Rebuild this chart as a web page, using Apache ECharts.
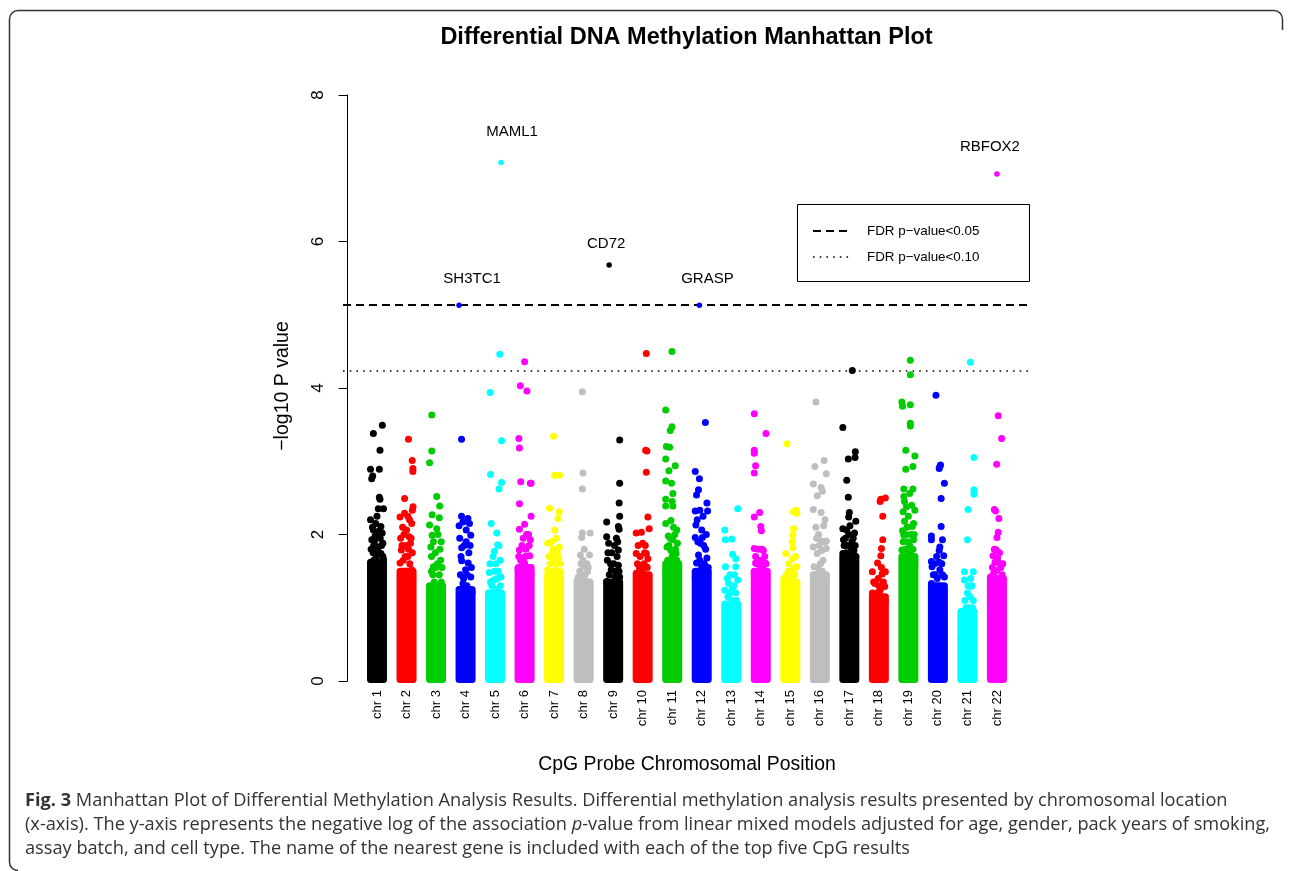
<!DOCTYPE html>
<html><head><meta charset="utf-8">
<script src="https://cdn.jsdelivr.net/npm/echarts@6/dist/echarts.min.js"></script>
<style>html,body{margin:0;padding:0;background:#fff}#c{width:1292px;height:871px}</style>
</head><body><div id="c"></div>
<script>
// ---------------- DATA ----------------
const chromosomes = [1,2,3,4,5,6,7,8,9,10,11,12,13,14,15,16,17,18,19,20,21,22];
// height (-log10 P) up to which each chromosome's point cloud is solid
const coreTop = [1.62,1.50,1.30,1.25,1.20,1.55,1.45,1.35,1.35,1.45,1.60,1.50,1.05,1.50,1.35,1.45,1.70,1.15,1.70,1.30,0.95,1.40];
// scattered probes above the solid cloud: [relative position in chromosome (0-1), -log10 P]
const chr01 = [[.91,3.49],[.22,3.38],[.73,3.15],[0,2.89],[.68,2.89],[.17,2.80],[.09,2.76],[.68,2.51],[.73,2.48],[.6,2.35],[1,2.35],[0,2.20],[.8,2.11],[.22,2.06],[.9,2.02],[.1,1.93],[.6,1.83],[.8,1.74],[.25,1.65],[.9,1.56],[.5,1.47],[0,1.38],[.4,2.15],[.55,2.0],[.3,1.9],[.75,1.95],[.05,1.8],[.45,1.7],[.95,1.88],[.15,1.6],[.65,1.62],[.35,1.5],[.85,1.45],[1,1.66],[.2,1.75],[.5,2.25],[.15,2.1],[.7,2.05],[.35,1.98],[.85,1.85],[.55,1.78],[.25,1.85],[.95,1.7]];
const chr02 = [[.65,3.30],[.94,3.01],[.99,2.90],[.99,2.86],[.35,2.49],[1,2.38],[.95,2.33],[.35,2.29],[0,2.24],[.73,2.20],[.5,2.06],[.7,1.97],[.8,1.88],[.1,1.79],[.6,1.70],[0,1.61],[.9,1.52],[.35,1.42],[.2,2.1],[.9,2.15],[.45,1.85],[.25,1.65],[.75,1.6],[.55,1.5],[.05,1.95],[.6,2.25],[.3,2.0],[.85,1.95],[.15,1.85],[.65,1.8],[.4,1.7],[.95,1.75]];
const chr03 = [[.17,3.63],[.17,3.14],[0,2.98],[.55,2.52],[.78,2.39],[.2,2.27],[.75,2.23],[0,2.13],[.55,2.08],[.2,1.99],[.1,1.83],[.85,1.65],[.3,1.56],[.75,1.45],[0,1.29],[.6,1.2],[.45,1.75],[.9,1.9],[.35,1.35],[.9,1.35],[.6,1.6],[.15,1.5],[.65,2.0],[.3,1.9],[.8,1.8],[.15,1.7],[.5,1.55],[.95,1.55],[.25,1.45]];
const chr04 = [[.19,3.30],[.19,2.25],[.68,2.22],[.3,2.17],[.8,2.15],[0,2.12],[.55,2.06],[.9,1.99],[.05,1.95],[.55,1.90],[.2,1.82],[.2,1.64],[.7,1.61],[.5,1.52],[.1,1.45],[.9,1.42],[.3,1.33],[1,1.2],[.75,1.75],[.6,1.3],[.05,1.25],[.4,1.2],[.4,1.85],[.85,1.85],[.15,1.7],[.6,1.45],[.95,1.55],[.35,1.4]];
const chr05 = [[.86,4.46],[.12,3.94],[1,3.28],[.15,2.82],[1,2.71],[.8,2.62],[.2,2.15],[.63,2.02],[.7,1.86],[.45,1.77],[.9,1.65],[.05,1.48],[.95,1.42],[.4,1.38],[0,1.2],[1,1.1],[.3,1.0],[.6,1.25],[.75,1.5],[.25,1.3],[.55,1.6],[.8,1.85],[.35,1.7],[.1,1.6],[.65,1.4],[.9,1.3],[.45,1.5],[.15,1.35]];
const chr06 = [[.5,4.36],[.17,4.03],[.68,3.96],[.06,3.31],[.1,3.18],[.2,2.72],[.94,2.70],[1,2.70],[.1,2.42],[1,2.25],[.5,2.14],[.1,2.07],[.94,1.93],[.1,1.79],[.9,1.71],[.5,1.61],[1,1.45],[0,1.52],[.3,1.85],[.7,1.55],[.2,1.65],[.6,1.8],[.8,2.0],[.4,1.95],[.55,1.7],[.85,1.85],[.05,1.7],[.35,1.6],[.65,2.0]];
const chr07 = [[.46,3.34],[.54,2.81],[.92,2.81],[.15,2.36],[.9,2.31],[.8,2.22],[.55,2.06],[0,1.88],[.4,1.80],[.9,1.83],[.3,1.72],[.7,1.61],[0,1.52],[1,1.49],[.4,1.40],[.65,1.95],[.2,1.6],[.85,1.68],[.3,1.9],[.75,1.75],[.5,1.65],[.1,1.7],[.95,1.6],[.6,1.52]];
const chr08 = [[.4,3.95],[.45,2.84],[.4,2.62],[.4,2.02],[1,2.02],[.35,1.96],[.25,1.72],[.95,1.72],[.45,1.65],[.5,1.56],[.8,1.49],[0,1.38],[.7,1.29],[.35,1.2],[.6,1.45],[.2,1.5],[.9,1.35],[.55,1.8],[.75,1.6],[.3,1.6],[.5,1.42],[.1,1.42],[.85,1.55]];
const chr09 = [[1,3.29],[1,2.70],[.96,2.43],[1,2.25],[0,2.17],[.9,2.11],[.96,2.07],[0,1.97],[.75,1.95],[.9,1.79],[.05,1.65],[.9,1.58],[.35,1.52],[1,1.42],[0,1.36],[.5,1.24],[.1,1.15],[.6,1.85],[.8,1.7],[.2,1.45],[.7,1.5],[.4,1.75],[.15,1.88],[.3,1.6],[.55,1.6],[.85,1.9],[.1,1.75],[.65,1.42],[.95,1.5]];
const chr10 = [[.78,4.47],[.73,3.15],[.83,3.14],[.78,2.85],[.9,2.24],[1,2.08],[0,2.02],[.4,2.03],[.5,1.88],[0,1.74],[.78,1.74],[.9,1.67],[.78,1.56],[0,1.47],[.9,1.40],[.4,1.33],[.6,1.6],[.25,1.55],[.15,1.85],[.55,1.4],[.7,1.85],[.3,1.7],[.85,1.55],[.1,1.6],[.45,1.5],[.65,1.75]];
const chr11 = [[.48,4.50],[0,3.70],[.48,3.47],[.35,3.42],[.05,3.20],[.3,3.19],[0,3.03],[.73,2.94],[.25,2.87],[0,2.73],[.45,2.70],[.55,2.56],[0,2.48],[.5,2.45],[0,2.39],[.55,2.39],[.4,2.19],[0,2.15],[.85,2.06],[.55,1.93],[.1,1.83],[.8,1.74],[.3,1.65],[1,1.56],[0,1.47],[.7,2.0],[.2,1.98],[.65,1.62],[.4,1.78],[.9,1.88],[.6,1.5],[.25,1.85],[.75,1.8],[.5,1.7],[.15,1.65],[.85,1.65],[.35,1.95],[.6,2.1]];
const chr12 = [[.78,3.53],[0,2.86],[.32,2.76],[.25,2.61],[.1,2.54],[.9,2.43],[0,2.32],[.35,2.33],[.95,2.32],[.6,2.25],[.05,2.13],[.5,2.06],[0,1.96],[.55,1.96],[.4,1.88],[.9,1.68],[.1,1.61],[.5,1.56],[.75,1.47],[0,1.42],[.8,1.8],[.25,1.72],[1,1.55],[.3,1.5],[.2,1.9],[.65,1.85],[.85,2.0],[.35,1.65],[.7,1.6],[.15,2.2]];
const chr13 = [[1,2.35],[0,2.06],[.05,1.93],[.55,1.94],[.6,1.73],[.85,1.67],[.05,1.56],[.85,1.56],[1,1.38],[.3,1.33],[0,1.24],[.85,1.2],[.6,1.1],[.1,1.0],[1,0.92],[.4,1.45],[.7,1.3],[.25,1.15],[.4,1.2],[.75,1.45],[.2,1.4],[.55,1.25],[.9,1.1]];
const chr14 = [[0,3.65],[.9,3.38],[0,3.15],[0,3.11],[.1,2.94],[0,2.84],[.42,2.30],[0,2.24],[.5,2.11],[.55,2.05],[0,1.81],[.7,1.78],[.1,1.70],[.85,1.61],[.1,1.61],[.65,1.54],[0,1.47],[.35,1.5],[.9,1.48],[.5,1.65],[.3,1.8],[.6,1.8],[.2,1.6],[.45,1.58],[.8,1.7],[.9,1.6]];
const chr15 = [[.25,3.24],[.75,2.31],[.95,2.33],[1,2.29],[.75,2.08],[.7,1.99],[.65,1.90],[.7,1.82],[.15,1.74],[.65,1.67],[1,1.56],[.8,1.54],[0,1.40],[.5,1.42],[1,1.33],[.25,1.24],[.35,1.5],[.55,1.3],[.4,1.6],[.85,1.45],[.2,1.45],[.6,1.45],[.9,1.7]];
const chr16 = [[.2,3.81],[.83,3.01],[.12,2.93],[1,2.83],[0,2.69],[.6,2.64],[.7,2.59],[.3,2.53],[0,2.34],[.6,2.30],[.8,2.12],[.6,1.91],[1,1.91],[0,1.83],[1,1.81],[.3,1.74],[.75,1.65],[.05,1.56],[.5,1.49],[1,1.42],[.15,1.33],[.4,2.0],[.9,2.2],[.2,2.1],[.55,1.6],[.8,1.4],[.35,1.55],[.7,1.5],[.1,1.45],[.85,1.9],[.45,1.85],[.65,1.78],[.25,1.95]];
const chr17 = [[.73,4.24],[0,3.46],[.96,3.13],[.94,3.05],[.42,3.03],[.3,2.74],[.42,2.51],[.5,2.30],[.45,2.24],[1,2.18],[0,2.08],[.3,2.06],[.9,2.02],[.05,1.93],[.6,1.83],[1,1.70],[0,1.74],[.4,1.65],[.2,1.95],[.7,1.9],[.55,2.12],[.85,1.78],[.15,1.62],[.35,1.85],[.65,1.75],[.1,1.85],[.8,1.95],[.45,2.0],[.25,1.75],[.95,1.85]];
const chr18 = [[1,2.50],[.65,2.48],[.6,2.45],[.8,2.25],[.8,1.93],[.7,1.81],[.65,1.71],[.4,1.61],[0,1.49],[1,1.49],[.75,1.46],[.2,1.33],[.95,1.29],[0,1.2],[.6,1.24],[1,1.1],[.3,1.0],[.45,1.4],[.15,1.1],[.5,1.3],[.85,1.35],[.35,1.2],[.7,1.55],[.1,1.35]];
const chr19 = [[.65,4.38],[.65,4.18],[0,3.81],[.05,3.75],[.65,3.77],[.65,3.52],[.65,3.48],[.3,3.15],[1,3.07],[.85,2.93],[.3,2.89],[.15,2.62],[.85,2.62],[.6,2.56],[.15,2.52],[.2,2.45],[1,2.33],[.1,2.31],[.2,2.18],[.8,2.11],[.15,1.99],[.9,1.93],[0,1.79],[.65,1.74],[.3,1.65],[1,1.61],[.5,2.25],[.45,1.9],[.75,2.4],[.05,2.05],[.35,2.38],[.6,1.85],[.9,2.15],[.25,1.8],[.7,2.0],[.4,2.1],[.55,1.75],[.85,1.8],[.1,1.9],[.3,2.0],[.95,2.0]];
const chr20 = [[.35,3.90],[.7,2.95],[.65,2.93],[.6,2.90],[1,2.70],[.75,2.49],[.75,2.11],[0,1.98],[.85,1.93],[0,1.93],[.65,1.83],[.6,1.78],[.95,1.71],[0,1.63],[.05,1.56],[.65,1.52],[1,1.42],[0,1.33],[.55,1.27],[.3,1.45],[.8,1.6],[.4,1.7],[.25,1.6],[.6,1.62],[.45,1.4],[.85,1.45],[.15,1.45]];
const chr21 = [[.73,4.35],[1,3.05],[1,2.61],[1,2.55],[.55,2.34],[.5,1.93],[.27,1.49],[.95,1.49],[.75,1.40],[.27,1.38],[.75,1.29],[.5,1.2],[.95,1.1],[.04,0.89],[.6,1.0],[0,0.58],[0,0.55],[.05,0.31],[0,0.16],[.3,1.1],[.85,1.3],[.4,1.0],[.7,1.15],[.9,1.0],[.55,1.3]];
const chr22 = [[.6,3.62],[.86,3.31],[.48,2.96],[.3,2.34],[.4,2.32],[.65,2.22],[.6,2.03],[.5,1.96],[.45,1.79],[.2,1.71],[.65,1.61],[.5,1.51],[0,1.42],[1,1.38],[.25,1.47],[.8,1.55],[.35,1.62],[.9,1.45],[.15,1.55],[.7,1.75],[.55,1.68],[.3,1.8],[.95,1.6],[.6,1.4]];
const chrPoints = [chr01,chr02,chr03,chr04,chr05,chr06,chr07,chr08,chr09,chr10,chr11,chr12,chr13,chr14,chr15,chr16,chr17,chr18,chr19,chr20,chr21,chr22];
// top five CpG results
const hitGenes  = ['SH3TC1','MAML1','CD72','GRASP','RBFOX2'];
const hitChr    = [4, 5, 9, 12, 22];
const hitPos    = [0, 0.96, 0.19, 0.32, 0.5];
const hitValues = [5.13, 7.08, 5.68, 5.13, 6.92];
// FDR thresholds (-log10 P)
const fdr05 = 5.13;
const fdr10 = 4.24;
const yTicks = [0, 2, 4, 6, 8];

// ---------------- STYLE / LAYOUT ----------------
const palette = ['#000000','#FF0000','#00CD00','#0000FF','#00FFFF','#FF00FF','#FFFF00','#BEBEBE'];
const colorOf = c => palette[(c - 1) % 8];
const SPREAD = 0.44;      // horizontal spread of point centres inside a chromosome column (axis units)
const HALF = 0.339;       // half width of a column including the dot radius
const FONT = '"Liberation Sans", Arial, sans-serif';
const CAP = '"Open Sans", Lato, sans-serif';
const CAPSIZE = 18.2;

const scatterData = [];
chrPoints.forEach((pts, i) => {
  const c = chromosomes[i];
  pts.forEach(p => scatterData.push([c + (p[0] - 0.5) * SPREAD, p[1], c]));
});
const coreData = chromosomes.map((c, i) => [c, coreTop[i]]);
const hitOffsets = [[13, -26], [11, -31], [-3, -21], [8, -26], [-7, -27]];
const hitData = hitGenes.map((g, i) => ({
  value: [hitChr[i] + (hitPos[i] - 0.5) * SPREAD, hitValues[i], hitChr[i]],
  name: g,
  label: { offset: hitOffsets[i] }
}));

const chart = echarts.init(document.getElementById('c'), null, { renderer: 'canvas' });
chart.setOption({
  animation: false,
  backgroundColor: '#fff',
  grid: { left: 343, top: 95, width: 687, height: 586 },
  xAxis: {
    type: 'value', min: -0.152, max: 23.12,
    axisLine: { show: false }, axisTick: { show: false }, splitLine: { show: false },
    axisLabel: {
      customValues: chromosomes, formatter: v => 'chr ' + v,
      rotate: 90, margin: 9, fontSize: 13, color: '#000', fontFamily: FONT
    }
  },
  yAxis: {
    type: 'value', min: yTicks[0], max: yTicks[yTicks.length - 1], interval: 2,
    axisLine: { show: true, lineStyle: { color: '#000', width: 1 } },
    axisTick: { show: true, length: 9, lineStyle: { color: '#000', width: 1 } },
    axisLabel: { rotate: 90, margin: 16, fontSize: 17, color: '#000', fontFamily: FONT },
    splitLine: { show: false }
  },
  series: [
    {
      type: 'custom', name: 'core', z: 2, silent: true,
      data: coreData,
      renderItem: (params, api) => {
        const c = api.value(0), top = api.value(1);
        const a = api.coord([c - HALF, top]);
        const b = api.coord([c + HALF, 0]);
        return {
          type: 'rect',
          shape: { x: a[0], y: a[1] - 3.5, width: b[0] - a[0], height: b[1] - a[1] + 5.5, r: 3.5 },
          style: { fill: colorOf(c) }
        };
      }
    },
    {
      type: 'scatter', name: 'probes', z: 3, silent: true,
      symbol: 'circle', symbolSize: 7,
      data: scatterData,
      itemStyle: { color: p => colorOf(p.value[2]), opacity: 1 },
      markLine: {
        silent: true, symbol: 'none', label: { show: false },
        data: [
          { yAxis: fdr05, lineStyle: { color: '#000', width: 2, type: [8, 5] } },
          { yAxis: fdr10, lineStyle: { color: '#000', width: 1.6, type: [1.6, 5.1] } }
        ]
      }
    },
    {
      type: 'scatter', name: 'top hits', z: 5, silent: true,
      symbol: 'circle', symbolSize: 5.5,
      data: hitData,
      itemStyle: { color: p => colorOf(p.value[2]), opacity: 1 },
      label: {
        show: true, position: 'inside', formatter: p => p.name,
        fontSize: 15, color: '#000', fontFamily: FONT
      }
    }
  ],
  graphic: [
    { type: 'polyline', silent: true,
      shape: { points: [[9.5, 862], [9.5, 19]] },
      style: { fill: null, stroke: '#333', lineWidth: 1.5 } },
    { type: 'polyline', silent: true,
      shape: { points: [[18, 10.5], [1274, 10.5]] },
      style: { fill: null, stroke: '#333', lineWidth: 1.5 } },
    { type: 'polyline', silent: true,
      shape: { points: [[1282.5, 19], [1282.5, 30]] },
      style: { fill: null, stroke: '#333', lineWidth: 1.5 } },
    { type: 'arc', silent: true, shape: { cx: 18, cy: 19, r: 8.5, startAngle: Math.PI, endAngle: Math.PI * 1.5 },
      style: { fill: null, stroke: '#333', lineWidth: 1.5 } },
    { type: 'arc', silent: true, shape: { cx: 1274, cy: 19, r: 8.5, startAngle: Math.PI * 1.5, endAngle: Math.PI * 2 },
      style: { fill: null, stroke: '#333', lineWidth: 1.5 } },
    { type: 'arc', silent: true, shape: { cx: 18, cy: 862, r: 8.5, startAngle: Math.PI * 0.5, endAngle: Math.PI },
      style: { fill: null, stroke: '#333', lineWidth: 1.5 } },
    { type: 'text', x: 686.5, y: 38, silent: true,
      style: { text: 'Differential DNA Methylation Manhattan Plot', textAlign: 'center', textVerticalAlign: 'middle',
        font: 'bold 23.5px ' + FONT, fill: '#000' } },
    { type: 'text', x: 283, y: 386, rotation: Math.PI / 2, silent: true,
      style: { text: '\u2212log10 P value', textAlign: 'center', textVerticalAlign: 'middle',
        font: '19.5px ' + FONT, fill: '#000' } },
    { type: 'text', x: 687, y: 765, silent: true,
      style: { text: 'CpG Probe Chromosomal Position', textAlign: 'center', textVerticalAlign: 'middle',
        font: '19.4px ' + FONT, fill: '#000' } },
    { type: 'rect', silent: true, shape: { x: 797.5, y: 204.5, width: 232, height: 77 },
      style: { fill: '#fff', stroke: '#000', lineWidth: 1 } },
    { type: 'line', silent: true, shape: { x1: 813, y1: 231, x2: 849, y2: 231 },
      style: { stroke: '#000', lineWidth: 2, lineDash: [8, 5] } },
    { type: 'line', silent: true, shape: { x1: 813, y1: 257, x2: 849, y2: 257 },
      style: { stroke: '#000', lineWidth: 1.6, lineDash: [1.6, 5.1] } },
    { type: 'text', x: 867, y: 231, silent: true,
      style: { text: 'FDR p\u2212value<0.05', textAlign: 'left', textVerticalAlign: 'middle', font: '13.4px ' + FONT, fill: '#000' } },
    { type: 'text', x: 867, y: 257, silent: true,
      style: { text: 'FDR p\u2212value<0.10', textAlign: 'left', textVerticalAlign: 'middle', font: '13.4px ' + FONT, fill: '#000' } },
    { type: 'text', x: 25, y: 801, silent: true,
      style: { text: '{b|Fig. 3} Manhattan Plot of Differential Methylation Analysis Results. Differential methylation analysis results presented by chromosomal location',
        textVerticalAlign: 'middle', fontSize: CAPSIZE, fontFamily: CAP, fill: '#333',
        rich: { b: { fontWeight: 'bold', fontSize: CAPSIZE, fontFamily: CAP, fill: '#333' } } } },
    { type: 'text', x: 25, y: 825, silent: true,
      style: { text: '(x-axis). The y-axis represents the negative log of the association {i|p}-value from linear mixed models adjusted for age, gender, pack years of smoking,',
        textVerticalAlign: 'middle', fontSize: CAPSIZE, fontFamily: CAP, fill: '#333',
        rich: { i: { fontStyle: 'italic', fontSize: CAPSIZE, fontFamily: CAP, fill: '#333' } } } },
    { type: 'text', x: 25, y: 849, silent: true,
      style: { text: 'assay batch, and cell type. The name of the nearest gene is included with each of the top five CpG results',
        textVerticalAlign: 'middle', fontSize: CAPSIZE, fontFamily: CAP, fill: '#333' } }
  ]
});
</script>
</body></html>
